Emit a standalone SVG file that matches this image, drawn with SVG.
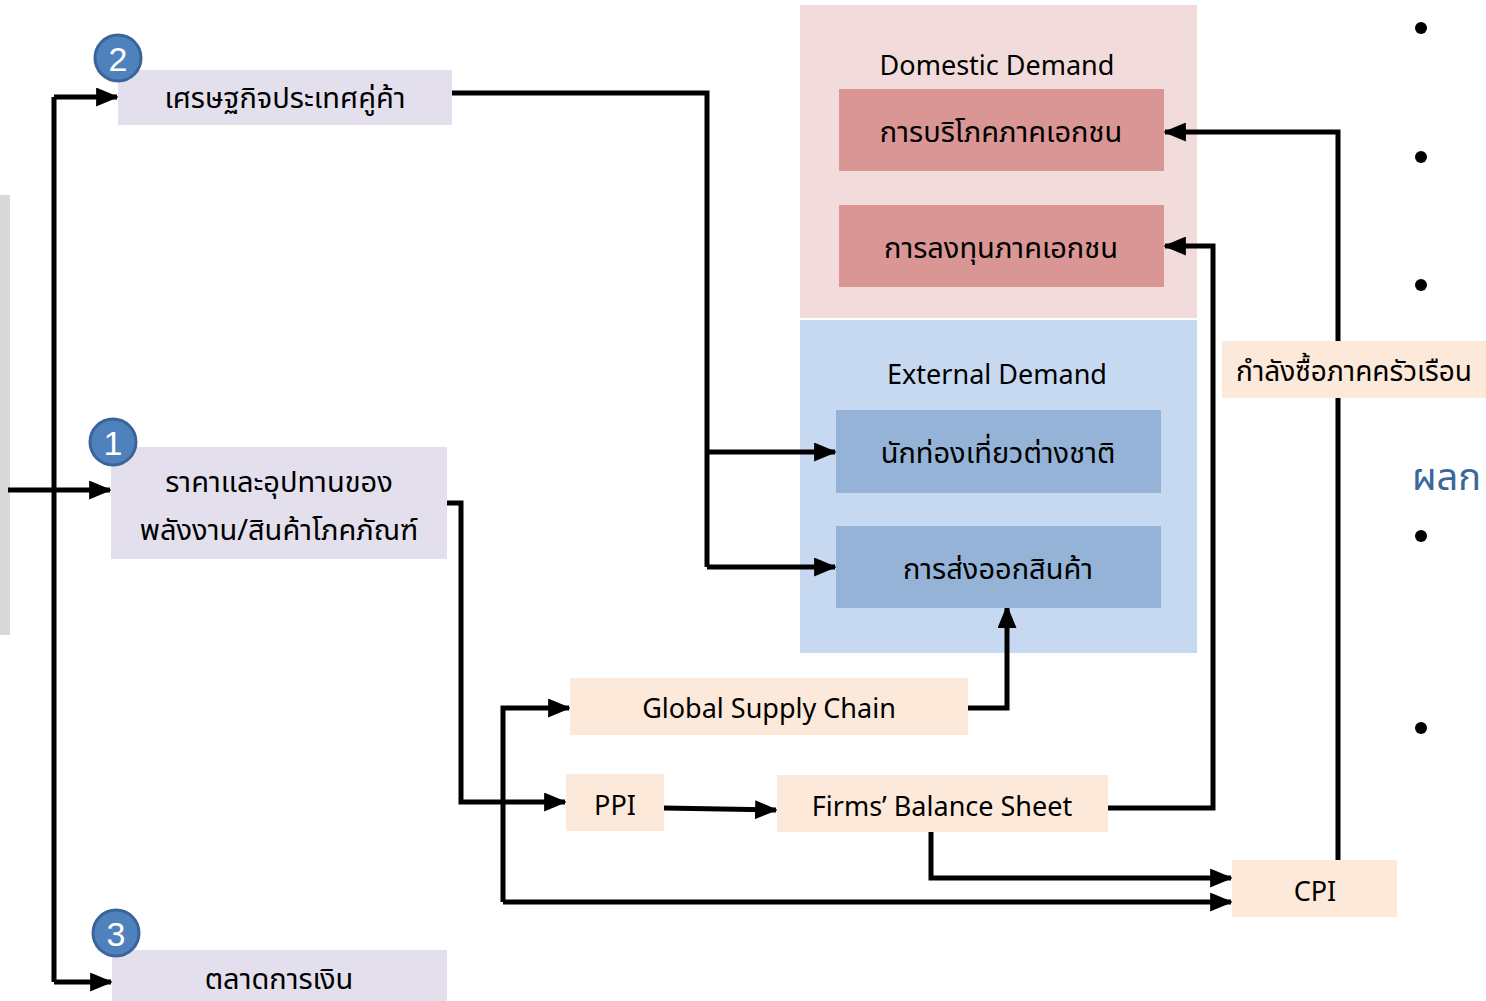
<svg xmlns="http://www.w3.org/2000/svg" width="1486" height="1001" viewBox="0 0 1486 1001">
<defs>
<marker id="ah" viewBox="0 0 12 10" refX="11" refY="5" markerWidth="4.6" markerHeight="3.8" markerUnits="strokeWidth" orient="auto">
<path d="M0,0 L12,5 L0,10 z" fill="#000"/>
</marker>
<style>
.t{font-family:"Noto Sans Thai","Noto Sans","DejaVu Sans",sans-serif;fill:#000;text-anchor:middle}
.en{font-size:27px}
.th{font-size:29px}
.lav{fill:#e4dfec}
.peach{fill:#fde9d9}
.red{fill:#da9694}
.blue{fill:#95b3d7}
.num{fill:#4f81bd;stroke:#3b6499;stroke-width:3}
.numt{font-family:"Liberation Sans",sans-serif;font-size:34px;fill:#fff;text-anchor:middle}
.c{fill:none;stroke:#000;stroke-width:5}
.ca{fill:none;stroke:#000;stroke-width:5;marker-end:url(#ah)}
</style>
</defs>
<rect width="1486" height="1001" fill="#fff"/>
<rect x="0" y="195" width="10" height="440" fill="#d9d9d9"/>
<g id="domestic">
<rect x="800" y="5" width="397" height="313" fill="#f2dcdb"/>
<text class="t en" x="997" y="75">Domestic Demand</text>
</g>
<g id="external">
<rect x="800" y="320" width="397" height="333" fill="#c6d9f1"/>
<text class="t en" x="997" y="384">External Demand</text>
</g>
<g id="connectors">
<path class="c" d="M452,93 H707 V567"/>
<path class="ca" d="M707,567 H835"/>
<path class="ca" d="M707,452 H835"/>
<path class="ca" d="M54,97 H117"/>
<path class="c" d="M54,97 V982"/>
<path class="ca" d="M54,982 H111"/>
<path class="ca" d="M8,490 H110"/>
<path class="ca" d="M447,503 H461 V802 H565"/>
<path class="ca" d="M503,902 V708 H569"/>
<path class="ca" d="M503,902 H1231"/>
<path class="ca" d="M664,808 L776,810"/>
<path class="ca" d="M968,708 H1007 V607"/>
<path class="ca" d="M1108,808 H1213 V246 H1165"/>
<path class="ca" d="M931,832 V878 H1231"/>
<path class="ca" d="M1338,860 V132 H1165"/>
</g>
<g id="n2">
<rect class="lav" x="118" y="70" width="334" height="55"/>
<text class="t th" x="285" y="108">เศรษฐกิจประเทศคู่ค้า</text>
<circle class="num" cx="118" cy="58" r="23"/>
<text class="numt" x="118" y="71">2</text>
</g>
<g id="n1">
<rect class="lav" x="111" y="447" width="336" height="112"/>
<text class="t th" x="279" y="492">ราคาและอุปทานของ</text>
<text class="t th" x="279" y="540">พลังงาน/สินค้าโภคภัณฑ์</text>
<circle class="num" cx="113" cy="442" r="23"/>
<text class="numt" x="113" y="455">1</text>
</g>
<g id="n3">
<rect class="lav" x="112" y="950" width="335" height="51"/>
<text class="t th" x="279" y="989">ตลาดการเงิน</text>
<circle class="num" cx="116" cy="933" r="23"/>
<text class="numt" x="116" y="946">3</text>
</g>
<g id="consumption">
<rect class="red" x="839" y="89" width="325" height="82"/>
<text class="t th" x="1001" y="142">การบริโภคภาคเอกชน</text>
</g>
<g id="investment">
<rect class="red" x="839" y="205" width="325" height="82"/>
<text class="t th" x="1001" y="258">การลงทุนภาคเอกชน</text>
</g>
<g id="tourists">
<rect class="blue" x="836" y="410" width="325" height="83"/>
<text class="t th" x="998" y="463">นักท่องเที่ยวต่างชาติ</text>
</g>
<g id="exports">
<rect class="blue" x="836" y="526" width="325" height="82"/>
<text class="t th" x="998" y="579">การส่งออกสินค้า</text>
</g>
<g id="gsc">
<rect class="peach" x="570" y="678" width="398" height="57"/>
<text class="t en" x="769" y="718">Global Supply Chain</text>
</g>
<g id="ppi">
<rect class="peach" x="566" y="774" width="98" height="57"/>
<text class="t en" x="615" y="815">PPI</text>
</g>
<g id="firms">
<rect class="peach" x="777" y="775" width="331" height="57"/>
<text class="t en" x="942" y="816">Firms’ Balance Sheet</text>
</g>
<g id="cpi">
<rect class="peach" x="1232" y="860" width="165" height="57"/>
<text class="t en" x="1315" y="901">CPI</text>
</g>
<g id="household">
<rect class="peach" x="1222" y="341" width="264" height="57"/>
<text class="t th" x="1354" y="381" style="font-size:28px">กำลังซื้อภาคครัวเรือน</text>
</g>
<g id="side">
<circle cx="1421" cy="28" r="6" fill="#000"/>
<circle cx="1421" cy="157" r="6" fill="#000"/>
<circle cx="1421" cy="285" r="6" fill="#000"/>
<circle cx="1421" cy="536" r="6" fill="#000"/>
<circle cx="1421" cy="728" r="6" fill="#000"/>
<text x="1412" y="490" style="font-family:'Noto Sans Thai','Noto Sans',sans-serif;font-size:38px;fill:#3b679b">ผลก</text>
</g>
</svg>
